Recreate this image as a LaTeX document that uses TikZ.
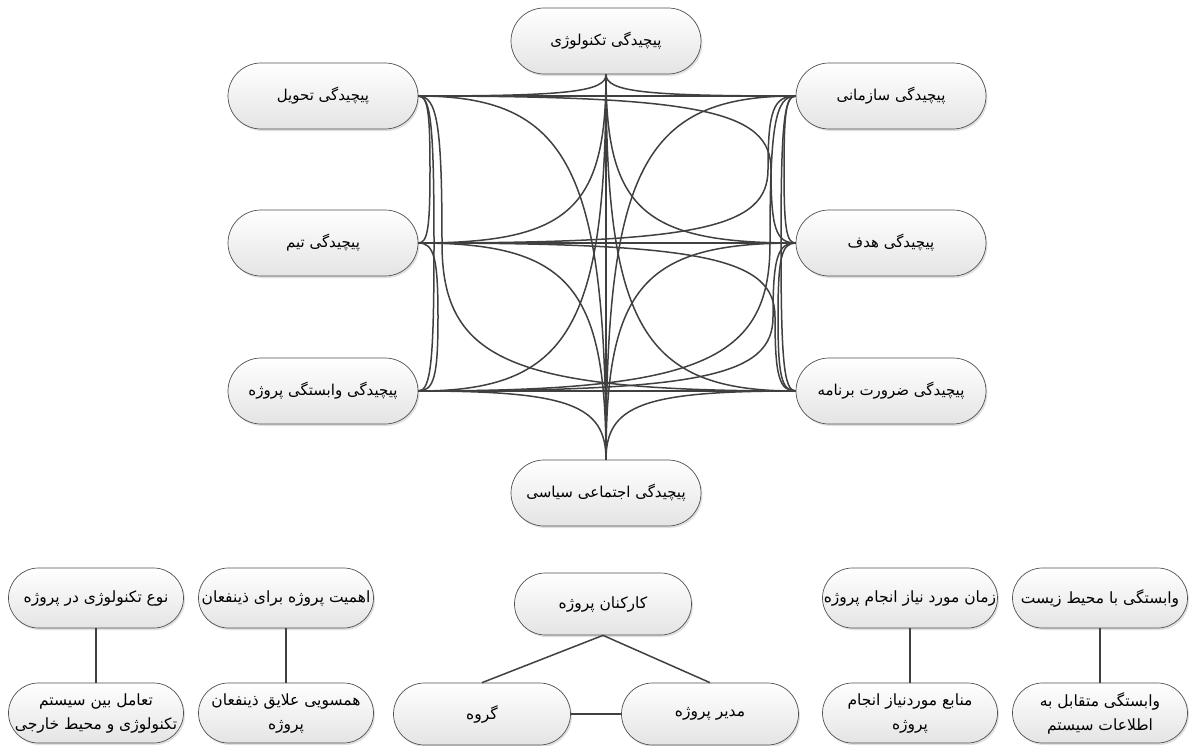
\documentclass[tikz,border=0pt]{standalone}
\usepackage{fontspec}
\usetikzlibrary{calc,shadows}
\newfontfamily\fa[Script=Arabic]{DejaVu Sans}
\TeXXeTstate=1
\newcommand\rtl[1]{{\fa\beginR #1\endR}}
% elbow connector: #1 leaves vertically, #2 is entered horizontally
\newcommand\elbowedge[2]{\draw[conn] (#1) .. controls ($(#1)!0.8!(#1 |- #2)$) and ($(#2)!0.8!(#1 |- #2)$) .. (#2);}
% three-segment connector with its vertical run at the x of #3
\newcommand\zedge[3]{\coordinate (zm) at ($(#1 -| #3)!0.5!(#2 -| #3)$);
  \draw[conn] (#1) .. controls ($(#1)!0.8!(#1 -| #3)$) and ($(zm)!0.8!(#1 -| #3)$) .. (zm)
    .. controls ($(zm)!0.8!(#2 -| #3)$) and ($(#2)!0.8!(#2 -| #3)$) .. (#2);}
\definecolor{edgecol}{HTML}{404040}
\definecolor{bordcol}{HTML}{505050}
\definecolor{shadecol}{HTML}{E4E4E4}
\tikzset{
  pillbase/.style={rectangle, draw=bordcol, line width=0.7bp, top color=white, bottom color=shadecol,
    drop shadow={shadow xshift=1.5bp, shadow yshift=-2bp, fill=black, opacity=0.12},
    inner sep=0pt, align=center, text=black},
  bigpill/.style={pillbase, minimum width=190bp, minimum height=66bp, rounded corners=33bp,
    font=\fontsize{15bp}{18bp}\selectfont},
  smallpill/.style={pillbase, minimum width=175bp, minimum height=60bp, rounded corners=30bp,
    font=\fontsize{15.5bp}{24bp}\selectfont},
  midpill/.style={pillbase, minimum width=177bp, minimum height=62bp, rounded corners=31bp,
    font=\fontsize{15.5bp}{24bp}\selectfont},
  conn/.style={draw=edgecol, line width=1.5bp}
}
\begin{document}
\begin{tikzpicture}[x=1bp, y=-1bp]
\useasboundingbox (0,0) rectangle (1190,746);
% main complexity nodes
\node[bigpill] (T)  at (606,41)  {\rtl{پیچیدگی تکنولوژی}};
\node[bigpill] (L1) at (323,96)  {\rtl{پیچیدگی تحویل}};
\node[bigpill] (L2) at (323,243) {\rtl{پیچیدگی تیم}};
\node[bigpill] (L3) at (323,391) {\rtl{پیچیدگی وابستگی پروژه}};
\node[bigpill] (R1) at (891,96)  {\rtl{پیچیدگی سازمانی}};
\node[bigpill] (R2) at (891,243) {\rtl{پیچیدگی هدف}};
\node[bigpill] (R3) at (891,391) {\rtl{پیچیدگی ضرورت برنامه}};
\node[bigpill] (B)  at (606,493) {\rtl{پیچیدگی اجتماعی سیاسی}};
% x positions of the vertical runs
\coordinate (xa) at (430,0);
\coordinate (xb) at (434,0);
\coordinate (xc) at (438,0);
\coordinate (xd) at (442,0);
\coordinate (ya) at (784,0);
\coordinate (yb) at (781,0);
\coordinate (yc) at (778,0);
\coordinate (y1) at (771,0);
\coordinate (y2) at (768,0);
\coordinate (y3) at (775,0);
\coordinate (y4) at (770,0);
\coordinate (y5) at (773,0);
% straight connectors
\draw[conn] (T.south) -- (B.north);
\draw[conn] (L1.east) -- (R1.west);
\draw[conn] (L2.east) -- (R2.west);
\draw[conn] (L3.east) -- (R3.west);
% elbow connectors from top and bottom
\elbowedge{T.south}{L1.east}
\elbowedge{T.south}{L2.east}
\elbowedge{T.south}{L3.east}
\elbowedge{T.south}{R1.west}
\elbowedge{T.south}{R2.west}
\elbowedge{T.south}{R3.west}
\elbowedge{B.north}{L1.east}
\elbowedge{B.north}{L2.east}
\elbowedge{B.north}{L3.east}
\elbowedge{B.north}{R1.west}
\elbowedge{B.north}{R2.west}
\elbowedge{B.north}{R3.west}
% side connectors
\zedge{L1.east}{L2.east}{xa}
\zedge{L1.east}{L3.east}{xb}
\zedge{L2.east}{L3.east}{xc}
\zedge{L1.east}{R3.west}{xd}
\zedge{R1.west}{R2.west}{ya}
\zedge{R1.west}{R3.west}{yb}
\zedge{R2.west}{R3.west}{yc}
\zedge{L1.east}{R2.west}{y1}
\zedge{L2.east}{R1.west}{y2}
\zedge{L2.east}{R3.west}{y3}
\zedge{L3.east}{R1.west}{y4}
\zedge{L3.east}{R2.west}{y5}
% bottom groups
\node[smallpill] (N1)  at (96,598)   {\rtl{نوع تکنولوژی در پروژه}};
\node[smallpill] (N2)  at (96,713)   {\rtl{تعامل بین سیستم}\\\rtl{تکنولوژی و محیط خارجی}};
\node[smallpill] (N3)  at (286,598)  {\rtl{اهمیت پروژه برای ذینفعان}};
\node[smallpill] (N4)  at (286,713)  {\rtl{همسویی علایق ذینفعان}\\\rtl{پروژه}};
\node[midpill]   (N5)  at (603,604)  {\rtl{کارکنان پروژه}};
\node[midpill]   (N6)  at (482,714)  {\rtl{گروه}};
\node[midpill]   (N7)  at (710,714)  {\rtl{مدیر پروژه}};
\node[smallpill] (N8)  at (910,598)  {\rtl{زمان مورد نیاز انجام پروژه}};
\node[smallpill] (N9)  at (910,713)  {\rtl{منابع موردنیاز انجام}\\\rtl{پروژه}};
\node[smallpill] (N10) at (1100,598) {\rtl{وابستگی با محیط زیست}};
\node[smallpill] (N11) at (1100,713) {\rtl{وابستگی متقابل به}\\\rtl{اطلاعات سیستم}};
\draw[conn] (N1) -- (N2);
\draw[conn] (N3) -- (N4);
\draw[conn] (N8) -- (N9);
\draw[conn] (N10) -- (N11);
\draw[conn] (N5.south) -- (N6.north);
\draw[conn] (N5.south) -- (N7.north);
\draw[conn] (N6) -- (N7);
\end{tikzpicture}
\end{document}
